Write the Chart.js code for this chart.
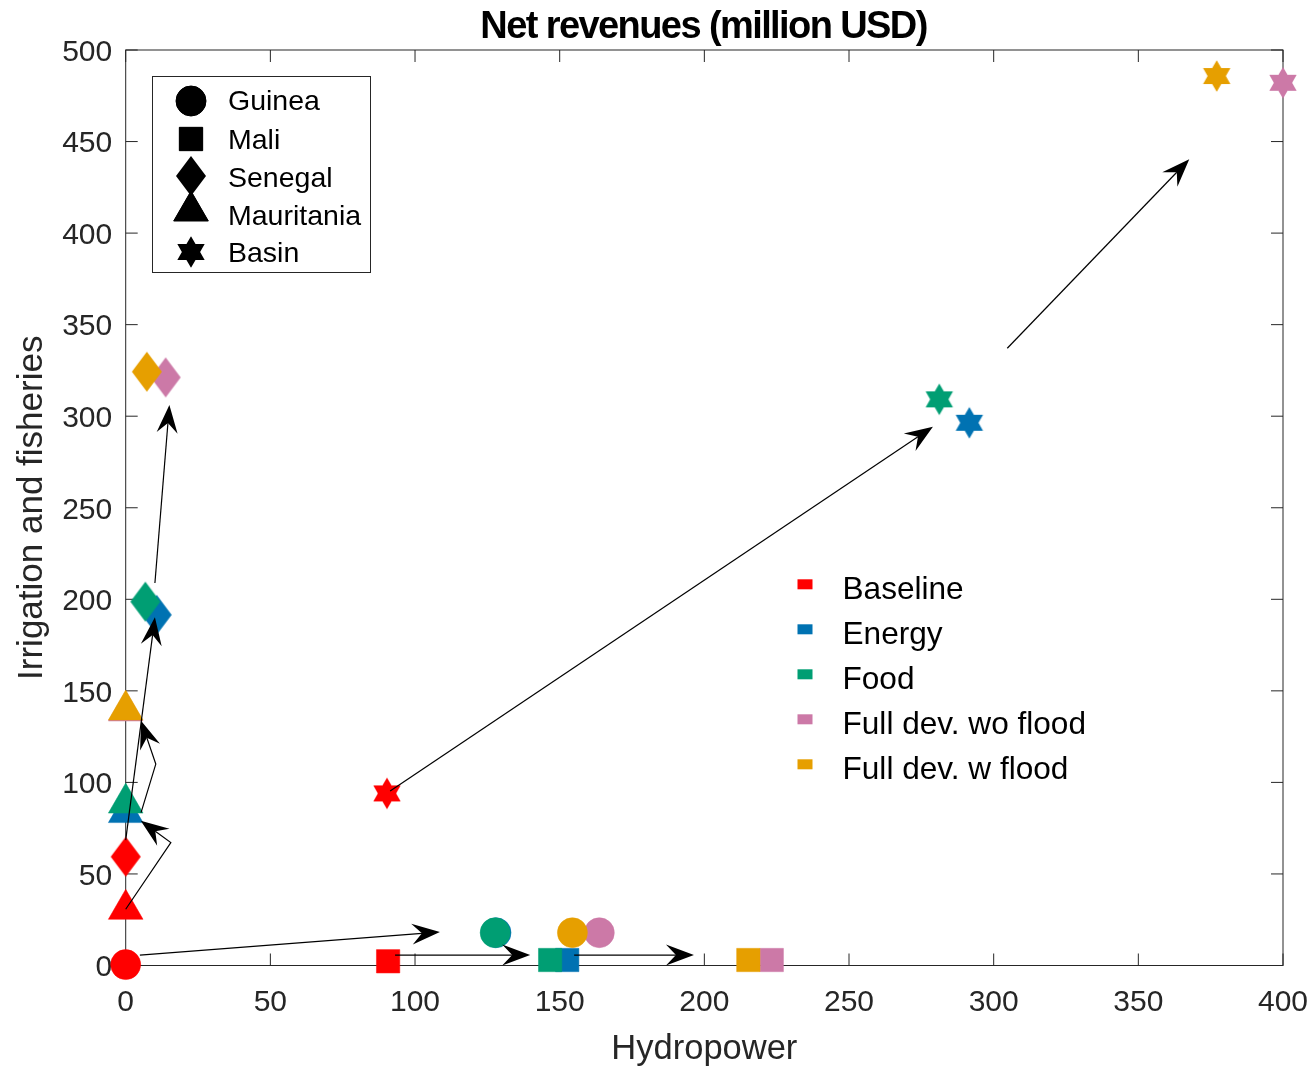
<!DOCTYPE html>
<html><head><meta charset="utf-8">
<script src="https://cdn.jsdelivr.net/npm/chart.js@4.4.1/dist/chart.umd.min.js"></script>
<style>html,body{margin:0;padding:0;background:#fff;}canvas{display:block;}</style>
</head><body>
<canvas id="c" width="1315" height="1067"></canvas>
<script>
// ---------- DATA ----------
const countries = ['Guinea', 'Mali', 'Senegal', 'Mauritania', 'Basin'];
const scenarios = ['Baseline', 'Energy', 'Food', 'Full dev. wo flood', 'Full dev. w flood'];
const scenarioColors = ['#FF0000', '#0072B2', '#009E73', '#CC79A7', '#E69F00'];
// x = Hydropower, y = Irrigation and fisheries (order of countries above)
const hydroBaseline = [0, 90.7, 0, 0, 90.3];
const irrigBaseline = [0.5, 2.3, 59.4, 30.7, 94.0];
const hydroEnergy = [128.0, 152.6, 10.7, 0, 291.6];
const irrigEnergy = [17.9, 3.0, 191.5, 83.5, 296.4];
const hydroFood = [127.7, 146.7, 6.8, 0, 281.2];
const irrigFood = [17.9, 3.0, 198.7, 88.7, 309.2];
const hydroFullWo = [163.7, 223.3, 13.8, 0, 400.0];
const irrigFullWo = [17.9, 3.0, 321.2, 139.0, 482.1];
const hydroFullW = [154.4, 215.2, 7.3, 0, 377.1];
const irrigFullW = [17.9, 3.0, 324.3, 139.5, 485.8];
const xTickValues = [0, 50, 100, 150, 200, 250, 300, 350, 400];
const yTickValues = [0, 50, 100, 150, 200, 250, 300, 350, 400, 450, 500];
// annotation arrows (data coordinates, last point = arrow tip)
const arrowGuinea = [[4.9, 5.7], [108.6, 18.3]];
const arrowMali1 = [[93.1, 5.7], [139.8, 5.7]];
const arrowMali2 = [[155.0, 5.7], [196.4, 5.7]];
const arrowSenegal1 = [[0, 68.5], [10.1, 190.2]];
const arrowSenegal2 = [[10.1, 208.9], [15.1, 306.1]];
const arrowMauritania1 = [[0, 30.7], [15.6, 67.1], [5.2, 79.1]];
const arrowMauritania2 = [[5.3, 83.5], [10.4, 110.0], [5.3, 133.7]];
const arrowBasin1 = [[91.4, 95.3], [279.0, 294.3]];
const arrowBasin2 = [[304.7, 337.1], [367.6, 440.3]];
const titleText = 'Net revenues (million USD)';
const xTitle = 'Hydropower';
const yTitle = 'Irrigation and fisheries';

// ---------- MARKERS ----------
const FONT = '"Liberation Sans", Arial, Helvetica, sans-serif';
function diamondPath(ctx, cx, cy, hw, hh) {
  ctx.beginPath();
  ctx.moveTo(cx, cy - hh); ctx.lineTo(cx + hw, cy); ctx.lineTo(cx, cy + hh); ctx.lineTo(cx - hw, cy);
  ctx.closePath();
}
function hexagramPath(ctx, cx, cy, R) {
  const r = R / Math.sqrt(3);
  ctx.beginPath();
  for (let k = 0; k < 12; k++) {
    const ang = -Math.PI / 2 + k * Math.PI / 6;
    const rad = (k % 2 === 0) ? R : r;
    const px = cx + rad * Math.cos(ang), py = cy + rad * Math.sin(ang);
    if (k === 0) ctx.moveTo(px, py); else ctx.lineTo(px, py);
  }
  ctx.closePath();
}
const imgCache = {};
function markerImage(kind, color) {
  const key = kind + color;
  if (imgCache[key]) return imgCache[key];
  const c = document.createElement('canvas');
  const g = c.getContext('2d');
  if (kind === 'diamond') {
    c.width = 32; c.height = 42;
    diamondPath(g, 16, 21, 15, 20);
  } else {
    c.width = 30; c.height = 34;
    hexagramPath(g, 15, 17, 15.8);
  }
  g.fillStyle = color; g.fill();
  imgCache[key] = c;
  return c;
}
const countryStyle = ['circle', 'rect', 'diamond', 'triangle', 'star'];
const countryRadius = [15, 16.5, 18, 20, 16];
function styleFor(i, color) {
  const s = countryStyle[i];
  if (s === 'diamond' || s === 'star') return markerImage(s, color);
  return s;
}

const xs = [hydroBaseline, hydroEnergy, hydroFood, hydroFullWo, hydroFullW];
const ys = [irrigBaseline, irrigEnergy, irrigFood, irrigFullWo, irrigFullW];
const drawOrder = [0, 3, 1, 4, 2];
const datasets = scenarios.map((name, s) => ({
  label: name,
  data: xs[s].map((v, i) => ({ x: v, y: ys[s][i] })),
  backgroundColor: scenarioColors[s],
  borderColor: scenarioColors[s],
  pointBackgroundColor: scenarioColors[s],
  pointBorderColor: scenarioColors[s],
  pointBorderWidth: 0.5,
  pointRadius: countryRadius,
  pointHoverRadius: countryRadius,
  pointStyle: countries.map((c, i) => styleFor(i, scenarioColors[s])),
  showLine: false,
  clip: false,
  order: drawOrder[s]
}));

// ---------- DECORATION PLUGIN ----------
function drawArrow(ctx, pts, x, y) {
  const p = pts.map(q => [x.getPixelForValue(q[0]), y.getPixelForValue(q[1])]);
  const n = p.length;
  const tip = p[n - 1], prev = p[n - 2];
  let dx = tip[0] - prev[0], dy = tip[1] - prev[1];
  const len = Math.hypot(dx, dy); dx /= len; dy /= len;
  const nx = -dy, ny = dx;
  const L = 28, W = 10.5, N = 18;
  ctx.beginPath();
  ctx.moveTo(p[0][0], p[0][1]);
  for (let i = 1; i < n - 1; i++) ctx.lineTo(p[i][0], p[i][1]);
  ctx.lineTo(tip[0] - dx * N, tip[1] - dy * N);
  ctx.stroke();
  ctx.beginPath();
  ctx.moveTo(tip[0], tip[1]);
  ctx.lineTo(tip[0] - dx * L + nx * W, tip[1] - dy * L + ny * W);
  ctx.lineTo(tip[0] - dx * N, tip[1] - dy * N);
  ctx.lineTo(tip[0] - dx * L - nx * W, tip[1] - dy * L - ny * W);
  ctx.closePath();
  ctx.fill();
}

const decor = {
  id: 'decor',
  beforeDatasetsDraw(chart) {
    const { ctx, chartArea: a, scales: { x, y } } = chart;
    ctx.save();
    ctx.strokeStyle = '#262626';
    ctx.lineWidth = 1;
    ctx.strokeRect(a.left, a.top, a.right - a.left, a.bottom - a.top);
    const tl = 12;
    ctx.beginPath();
    x.ticks.forEach(t => {
      const px = x.getPixelForValue(t.value);
      ctx.moveTo(px, a.bottom); ctx.lineTo(px, a.bottom - tl);
      ctx.moveTo(px, a.top); ctx.lineTo(px, a.top + tl);
    });
    y.ticks.forEach(t => {
      const py = y.getPixelForValue(t.value);
      ctx.moveTo(a.left, py); ctx.lineTo(a.left + tl, py);
      ctx.moveTo(a.right, py); ctx.lineTo(a.right - tl, py);
    });
    ctx.stroke();
    ctx.restore();
  },
  afterDatasetsDraw(chart) {
    const { ctx, chartArea: a, scales: { x, y } } = chart;
    ctx.save();
    // arrows
    ctx.strokeStyle = '#000'; ctx.fillStyle = '#000'; ctx.lineWidth = 1.2;
    [arrowGuinea, arrowMali1, arrowMali2, arrowSenegal1, arrowSenegal2,
     arrowMauritania1, arrowMauritania2, arrowBasin1, arrowBasin2].forEach(ar => drawArrow(ctx, ar, x, y));

    // country legend (marker shapes)
    ctx.fillStyle = '#fff';
    ctx.fillRect(152.5, 76.5, 218, 196);
    ctx.strokeStyle = '#262626'; ctx.lineWidth = 1;
    ctx.strokeRect(152.5, 76.5, 218, 196);
    const rowsY = [102.5, 141, 179, 217, 254];
    const mkY = [101, 139, 176, 211, 252];
    ctx.fillStyle = '#000'; ctx.strokeStyle = '#000';
    countries.forEach((c, i) => {
      const mx = 191, my = mkY[i];
      const s = countryStyle[i];
      if (s === 'diamond') { diamondPath(ctx, mx, my, 15, 20); ctx.fill(); }
      else if (s === 'star') { hexagramPath(ctx, mx, my, 15.8); ctx.fill(); }
      else {
        Chart.helpers.drawPoint(ctx, { pointStyle: s, radius: countryRadius[i], borderWidth: 0.5, rotation: 0 }, mx, my);
        ctx.fill();
      }
      ctx.font = '28.5px ' + FONT;
      ctx.textAlign = 'left'; ctx.textBaseline = 'middle';
      ctx.fillText(c, 228, rowsY[i]);
    });

    // scenario legend (colours)
    scenarios.forEach((s, i) => {
      const cy = 584.3 + i * 45;
      ctx.fillStyle = scenarioColors[i];
      ctx.fillRect(797.5, cy - 5, 15, 10);
      ctx.fillStyle = '#000';
      ctx.font = '31.6px ' + FONT;
      ctx.textAlign = 'left'; ctx.textBaseline = 'middle';
      ctx.fillText(s, 842.5, cy + 5.5);
    });

    // title (bold, tightly spaced)
    ctx.font = 'bold 38px ' + FONT;
    ctx.fillStyle = '#000';
    ctx.textBaseline = 'alphabetic'; ctx.textAlign = 'left';
    const chars = Array.from(titleText);
    const widths = chars.map(ch => ctx.measureText(ch).width);
    const nat = widths.reduce((p, q) => p + q, 0);
    const target = 448;
    const sp = (target - nat) / (chars.length - 1);
    let cx = (a.left + a.right) / 2 - target / 2;
    chars.forEach((ch, i) => { ctx.fillText(ch, cx, 37.5); cx += widths[i] + sp; });
    ctx.restore();
  }
};

const tickFont = { family: FONT, size: 30 };
new Chart(document.getElementById('c'), {
  type: 'scatter',
  data: { datasets },
  options: {
    responsive: false,
    animation: false,
    events: [],
    layout: { padding: { left: 0, right: 32, top: 50, bottom: 0 } },
    plugins: { legend: { display: false }, tooltip: { enabled: false }, title: { display: false } },
    scales: {
      x: {
        type: 'linear', min: 0, max: 400,
        afterBuildTicks: s => { s.ticks = xTickValues.map(v => ({ value: v })); },
        ticks: { font: tickFont, color: '#262626', padding: 19, maxRotation: 0, autoSkip: false },
        grid: { display: false, drawTicks: false },
        border: { display: false },
        title: { display: true, text: xTitle, font: { family: FONT, size: 34.5 }, color: '#262626', padding: { top: 0, bottom: -3 } },
        afterFit: s => { s.height = 101.5; s.paddingLeft = 0; s.paddingRight = 0; }
      },
      y: {
        type: 'linear', min: 0, max: 500,
        afterBuildTicks: s => { s.ticks = yTickValues.map(v => ({ value: v })); },
        ticks: { font: tickFont, color: '#262626', padding: 13.5, autoSkip: false, labelOffset: 2.5 },
        grid: { display: false, drawTicks: false },
        border: { display: false },
        title: { display: true, text: yTitle, font: { family: FONT, size: 35 }, color: '#262626', padding: { top: 11.6, bottom: 0 } },
        afterFit: s => { s.width = 125.7; s.paddingTop = 0; s.paddingBottom = 0; }
      }
    }
  },
  plugins: [decor]
});
</script>
</body></html>
